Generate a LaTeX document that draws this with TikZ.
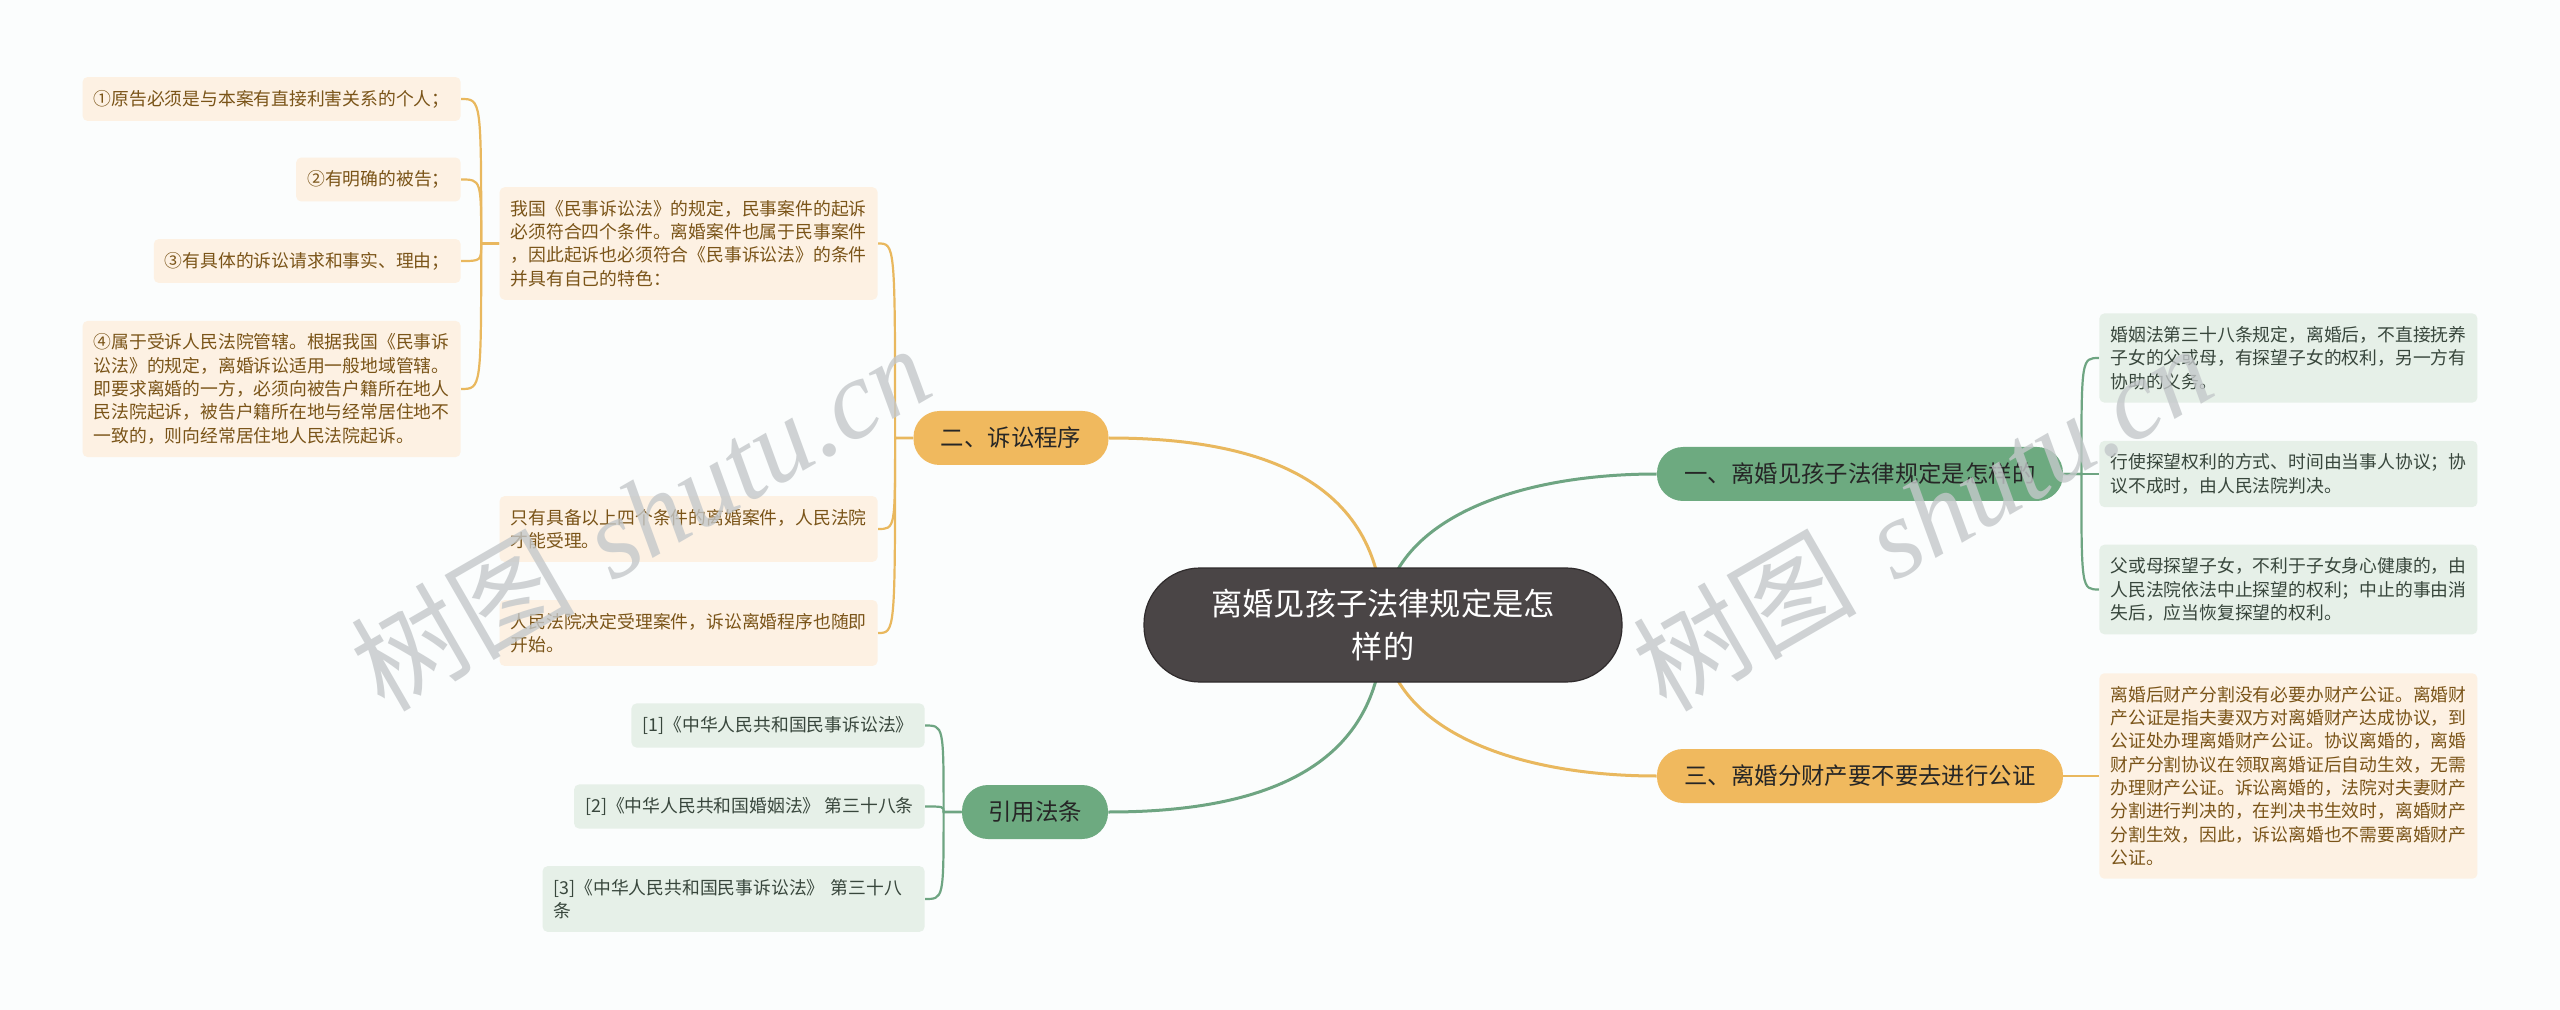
\documentclass[tikz,border=0pt]{standalone}
\usepackage{fontspec}
\setmainfont{Noto Sans CJK SC}
\newfontfamily\wmserif{Liberation Serif}
\usepackage{tikz}
\usetikzlibrary{positioning}
\usetikzlibrary{calc,backgrounds}

\definecolor{bgcol}{HTML}{FBFDFD}
\definecolor{rootfill}{HTML}{4A4546}
\definecolor{rootdraw}{HTML}{2F2B2C}
\definecolor{grnfill}{HTML}{6DAA80}
\definecolor{grnline}{HTML}{6EA582}
\definecolor{grnleaf}{HTML}{E6F0E8}
\definecolor{grntext}{HTML}{38463C}
\definecolor{orgfill}{HTML}{F0B95E}
\definecolor{orgline}{HTML}{E9B85E}
\definecolor{orgleaf}{HTML}{FDF1E3}
\definecolor{orgtext}{HTML}{7A5418}
\definecolor{wmgray}{HTML}{C4C8CA}

\tikzstyle{rootnode}=[rectangle,rounded corners=28pt,fill=rootfill,draw=rootdraw,line width=0.6pt,minimum width=239pt,minimum height=57pt,align=center,text=white,font=\fontsize{15.6pt}{21.5pt}\selectfont]
\tikzstyle{branch}=[rectangle,rounded corners=13pt,minimum height=27pt,inner sep=0pt,font=\fontsize{11.7pt}{14pt}\selectfont]
\tikzstyle{greenbranch}=[branch,fill=grnfill,text=black!85]
\tikzstyle{orangebranch}=[branch,fill=orgfill,text=black!85]
\tikzstyle{leaf}=[rectangle,rounded corners=2.5pt,align=left,inner xsep=5.5pt,inner ysep=6.5pt,font=\fontsize{8.9pt}{11.65pt}\selectfont]
\tikzstyle{greenleaf}=[leaf,fill=grnleaf,text=grntext]
\tikzstyle{orangeleaf}=[leaf,fill=orgleaf,text=orgtext]
\tikzstyle{greenedge}=[draw=grnline,line width=1.5pt]
\tikzstyle{orangeedge}=[draw=orgline,line width=1.5pt]
\tikzstyle{greenlink}=[draw=grnline,line width=1.1pt]
\tikzstyle{orangelink}=[draw=orgline,line width=1.1pt]
\tikzset{watermark/.style={rotate=30,text=wmgray,text opacity=0.8,font=\fontsize{56pt}{64pt}\selectfont,inner sep=0pt}}

\begin{document}
\begin{tikzpicture}[x=0.5pt,y=-0.5pt]

  \useasboundingbox (0,0) rectangle (2560,1010);

  % topics
  \node[rootnode] (root) at (1383,625) {离婚见孩子法律规定是怎\\样的};
  \node[greenbranch,minimum width=203pt] (b1) at (1860,474) {一、离婚见孩子法律规定是怎样的};
  \node[orangebranch,minimum width=97.5pt] (b2) at (1011,438) {二、诉讼程序};
  \node[orangebranch,minimum width=203pt] (b3) at (1860,776) {三、离婚分财产要不要去进行公证};
  \node[greenbranch,minimum width=73pt] (b4) at (1035,812) {引用法条};

  % right side
  \foreach \y/\name/\txt in {358/g1/{婚姻法第三十八条规定，离婚后，不直接抚养\\子女的父或母，有探望子女的权利，另一方有\\协助的义务。},
      474/g2/{行使探望权利的方式、时间由当事人协议；协\\议不成时，由人民法院判决。},
      589.5/g3/{父或母探望子女，不利于子女身心健康的，由\\人民法院依法中止探望的权利；中止的事由消\\失后，应当恢复探望的权利。}}
          \node[greenleaf,anchor=west] (\name) at (2099,\y) {\txt};

  \node[orangeleaf,anchor=west] (o31) at (2099,776) {离婚后财产分割没有必要办财产公证。离婚财\\产公证是指夫妻双方对离婚财产达成协议，到\\公证处办理离婚财产公证。协议离婚的，离婚\\财产分割协议在领取离婚证后自动生效，无需\\办理财产公证。诉讼离婚的，法院对夫妻财产\\分割进行判决的，在判决书生效时，离婚财产\\分割生效，因此，诉讼离婚也不需要离婚财产\\公证。};

  % left side
  \foreach \y/\name/\txt in {243.5/o21/{我国《民事诉讼法》的规定，民事案件的起诉\\必须符合四个条件。离婚案件也属于民事案件\\，因此起诉也必须符合《民事诉讼法》的条件\\并具有自己的特色：},
      529/o22/{只有具备以上四个条件的离婚案件，人民法院\\才能受理。},
      633/o23/{人民法院决定受理案件，诉讼离婚程序也随即\\开始。}}
          \node[orangeleaf,anchor=east] (\name) at (878,\y) {\txt};

  \foreach \y/\name/\txt in {99/o211/{①原告必须是与本案有直接利害关系的个人；},
      179.5/o212/{②有明确的被告；},
      261/o213/{③有具体的诉讼请求和事实、理由；},
      389/o214/{④属于受诉人民法院管辖。根据我国《民事诉\\讼法》的规定，离婚诉讼适用一般地域管辖。\\即要求离婚的一方，必须向被告户籍所在地人\\民法院起诉，被告户籍所在地与经常居住地不\\一致的，则向经常居住地人民法院起诉。}}
          \node[orangeleaf,anchor=east] (\name) at (461,\y) {\txt};

  \foreach \y/\name/\txt in {725.5/c1/{[1]《中华人民共和国民事诉讼法》}, 806.5/c2/{[2]《中华人民共和国婚姻法》 第三十八条}}
          \node[greenleaf,anchor=east] (\name) at (925,\y) {\txt};
  \node[greenleaf,anchor=east,text width=180pt] (c3) at (925,899) {[3]《中华人民共和国民事诉讼法》 第三十八\\条};

  \coordinate (s1) at ([xshift=9pt]b1.east);
  \coordinate (s2) at ([xshift=-9pt]b2.west);
  \coordinate (s21) at ([xshift=-9pt]o21.west);
  \coordinate (s4) at ([xshift=-9pt]b4.west);

  \begin{pgfonlayer}{background}
    \fill[bgcol] (0,0) rectangle (2560,1010);

    \path[greenedge] (root.center) .. controls +(0,-100) and +(-150,0) .. (b1.west);
    \path[orangeedge] (root.center) .. controls +(0,-140) and +(160,0) .. (b2.east);
    \path[orangeedge] (root.center) .. controls +(0,100) and +(-150,0) .. (b3.west);
    \path[greenedge] (root.center) .. controls +(0,140) and +(160,0) .. (b4.east);

    \foreach \dest in {g1,g2,g3}
           \path[greenlink] (b1.east) -- (s1) .. controls (s1 |- \dest.west) .. (\dest.west);
    \path[orangelink] (b3.east) -- (o31.west);
    \foreach \dest in {o21,o22,o23}
           \path[orangelink] (b2.west) -- (s2) .. controls (s2 |- \dest.east) .. (\dest.east);
    \foreach \dest in {o211,o212,o213,o214}
           \path[orangelink] (o21.west) -- (s21) .. controls (s21 |- \dest.east) .. (\dest.east);
    \foreach \dest in {c1,c2,c3}
           \path[greenlink] (b4.west) -- (s4) .. controls (s4 |- \dest.east) .. (\dest.east);
  \end{pgfonlayer}

%watermarks
  \node[watermark] (wm1) at (640,517) {树图\hspace{0.35em}{\wmserif\itshape shutu.cn}};
  \node[watermark] (wm2) at (1922,517) {树图\hspace{0.35em}{\wmserif\itshape shutu.cn}};

\end{tikzpicture}
\end{document}
